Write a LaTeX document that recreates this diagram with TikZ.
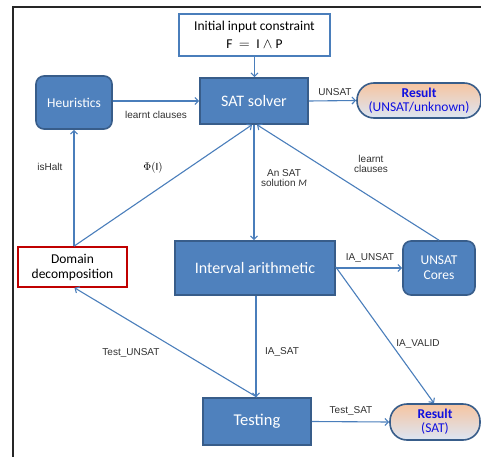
\documentclass[tikz,border=0pt]{standalone}
\usepackage{fontspec}
\setmainfont{Carlito}
\newfontfamily\arialfont{Liberation Sans}
\usetikzlibrary{arrows.meta,positioning}
\definecolor{boxfill}{HTML}{4F81BD}
\definecolor{boxdraw}{HTML}{385D8A}
\definecolor{arrcol}{HTML}{4A7EBB}
\definecolor{labcol}{HTML}{303030}
\definecolor{domred}{HTML}{C00000}
\definecolor{restop}{HTML}{F6C4A0}
\definecolor{resmid}{HTML}{D3DDEE}
\definecolor{resbot}{HTML}{DCE6F4}
\definecolor{restext}{HTML}{1010E0}
\begin{document}
\begin{tikzpicture}[x=1pt,y=-1pt,
  bluebox/.style={draw=boxdraw,line width=1.6pt,fill=boxfill,text=white,align=center,inner sep=0pt},
  whitebox/.style={draw=arrcol,line width=1.4pt,fill=white,text=black,align=center,inner sep=0pt},
  redbox/.style={draw=domred,line width=1.6pt,fill=white,text=black,align=center,inner sep=0pt},
  pill/.style={draw=boxdraw,line width=1.6pt,top color=restop,middle color=resmid,bottom color=resbot,text=restext,align=center,inner sep=0pt},
  arr/.style={draw=arrcol,line width=1.1pt,-{Straight Barb[length=3.5pt,width=7pt]}},
  lab/.style={text=labcol,font=\arialfont\fontsize{10}{11.5}\selectfont,align=center,inner sep=0pt},
  big/.style={font=\fontsize{16}{18}\selectfont},
  mid/.style={font=\fontsize{13.5}{16}\selectfont}
]
\useasboundingbox (0,0) rectangle (481,457);
\coordinate (ftl) at (13,7);
\coordinate (ftr) at (481,7);
\coordinate (fbl) at (13,457);
\draw[line width=1.5pt,black!85] (ftr) -- (ftl) -- (fbl);

\node[whitebox,mid,minimum width=151pt,minimum height=42pt] (init) at (254.5,35)
  {Initial input constraint\\[2pt]$\mathrm{F\,=\,I\land P}$};
\node[bluebox,big,minimum width=108pt,minimum height=46pt] (sat) at (254,101)
  {SAT solver};
\node[bluebox,mid,rounded corners=8pt,minimum width=76pt,minimum height=53pt] (heur) at (74,102.5)
  {Heuristics};
\node[pill,mid,rounded corners=17pt,minimum width=124pt,minimum height=35pt] (res1) at (419,100.5)
  {\textbf{Result}\\[-2pt](UNSAT/unknown)};
\node[redbox,mid,minimum width=109pt,minimum height=40pt] (dom) at (72.5,267)
  {Domain\\[-1pt]decomposition};
\node[bluebox,big,minimum width=160pt,minimum height=54pt] (ia) at (255,268)
  {Interval arithmetic};
\node[bluebox,mid,rounded corners=8pt,minimum width=72pt,minimum height=54pt] (cores) at (439,268)
  {UNSAT\\[-1pt]Cores};
\node[bluebox,font=\fontsize{16.5}{18}\selectfont,minimum width=108pt,minimum height=47pt] (test) at (257,421.5)
  {Testing};
\node[pill,mid,rounded corners=17pt,minimum width=90pt,minimum height=36pt] (res2) at (435,422)
  {\textbf{Result}\\[-2pt](SAT)};

% connectors
\draw[arr] (init.south) -- (init.south|-sat.north);
\draw[arr] (heur.east|-sat.west) -- (sat.west);
\draw[arr] (sat.east) -- (res1.west);
\draw[arr] (dom.north-|heur.south) -- (heur.south);
\draw[arr] (dom.north-|heur.south) -- ([xshift=-2pt]sat.south);
\draw[arr] (sat.south) -- (sat.south|-ia.north);
\draw[arr] (cores.north) -- ([xshift=3pt]sat.south);
\draw[arr] (ia.east) -- (cores.west);
\draw[arr] ([xshift=1pt]ia.south) -- ([xshift=-1pt]test.north);
\draw[arr] ([yshift=1pt]ia.east) -- ([xshift=-1pt]res2.north);
\draw[arr] (test.north) -- ([xshift=2pt]dom.south);
\draw[arr] (test.east) -- (res2.west);

% labels
\node[lab] (l1) at (156,115) {learnt clauses};
\node[lab] (l2) at (335,92) {UNSAT};
\node[lab] (l3) at (50,167) {isHalt};
\node[lab,text=black,font=\fontsize{11}{12}\selectfont] (l4) at (153,168) {$\Phi(\mathrm{I})$};
\node[lab] (l5) at (284,178) {An SAT\\[-1pt]solution $\mathit{M}$};
\node[lab] (l6) at (371,164) {learnt\\[-1pt]clauses};
\node[lab] (l7) at (370,258) {IA\_UNSAT};
\node[lab] (l8) at (282,352) {IA\_SAT};
\node[lab] (l9) at (131,353) {Test\_UNSAT};
\node[lab] (l10) at (418,344) {IA\_VALID};
\node[lab] (l11) at (351,411) {Test\_SAT};
\end{tikzpicture}
\end{document}
